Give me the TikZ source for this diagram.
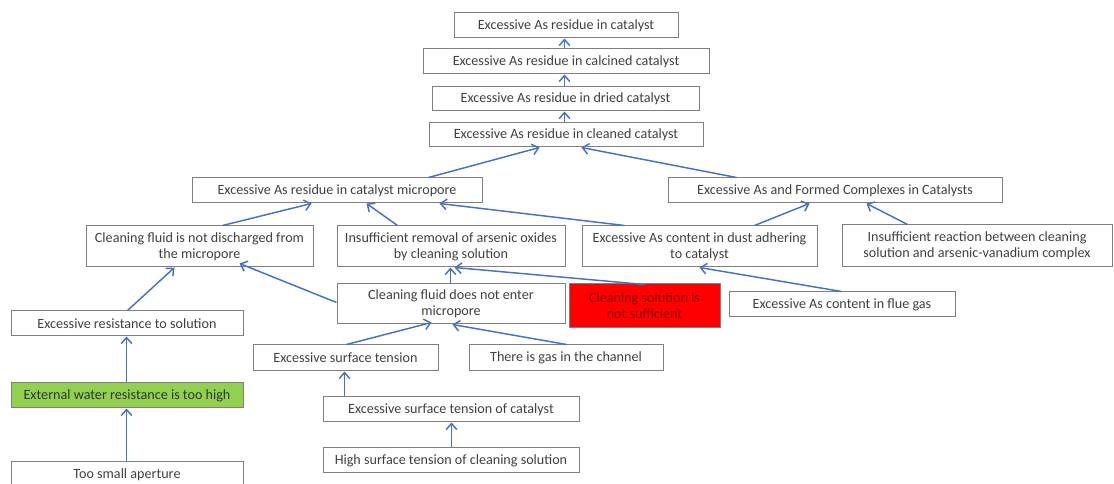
\documentclass[tikz,border=0pt]{standalone}
\usepackage{fontspec}
\setmainfont{Carlito}
\usetikzlibrary{arrows.meta,calc}
\definecolor{arrowblue}{HTML}{4472C4}
\definecolor{boxgray}{HTML}{7F7F7F}
\definecolor{txtgray}{HTML}{404040}
\definecolor{redfill}{HTML}{FF0000}
\definecolor{redtxt}{HTML}{8C0000}
\definecolor{greenfill}{HTML}{92D050}
\newcommand\bx[7][]{%
  \node[box,#1,minimum width={(#5-#3)*0.75pt},minimum height={(#6-#4)*0.75pt}]
    (#2) at ({(#3+#5)/2},{(#4+#6)/2}) {#7};}
\begin{document}
\begin{tikzpicture}[x=0.75pt,y=-0.75pt,
  box/.style={draw=boxgray,line width=0.75pt,fill=white,inner sep=0pt,
    align=center,text=txtgray,font=\fontsize{10.6}{11.9}\selectfont},
  redbox/.style={fill=redfill,draw=boxgray,text=redtxt},
  greenbox/.style={fill=greenfill,text=txtgray!80!black},
  arr/.style={draw=arrowblue,line width=1.1pt,
    -{Straight Barb[length=4.5pt,width=8pt,line width=1.1pt]}}]
\useasboundingbox (0,0) rectangle (1114,484);
\clip (0,0) rectangle (1114,484);
\bx{b1}{454}{13}{678}{38}{Excessive As residue in catalyst}
\bx{b2}{423}{49}{709}{74}{Excessive As residue in calcined catalyst}
\bx{b3}{432}{87}{699}{111}{Excessive As residue in dried catalyst}
\bx{b4}{429}{123}{703}{147}{Excessive As residue in cleaned catalyst}
\bx{b5}{192}{178}{482}{203}{Excessive As residue in catalyst micropore}
\bx{b6}{668}{178}{1002}{203}{Excessive As and Formed Complexes in Catalysts}
\bx{b7}{86}{226}{313}{267}{Cleaning fluid is not discharged from\\the micropore}
\bx{b8}{337}{226}{565}{267}{Insufficient removal of arsenic oxides\\by cleaning solution}
\bx{b9}{582}{226}{817}{267}{Excessive As content in dust adhering\\to catalyst}
\bx{b10}{842}{225}{1112}{267}{Insufficient reaction between cleaning\\solution and arsenic-vanadium complex}
\bx{b11}{337}{284}{565}{324}{Cleaning fluid does not enter\\micropore}
\bx[redbox]{b12}{569}{284}{720}{328}{Cleaning solution is\\not sufficient}
\bx{b13}{729}{292}{955}{317}{Excessive As content in flue gas}
\bx{b14}{11}{311}{243}{336}{Excessive resistance to solution}
\bx{b15}{253}{345}{438}{371}{Excessive surface tension}
\bx{b16}{469}{345}{663}{371}{There is gas in the channel}
\bx[greenbox]{b17}{11}{383}{243}{408}{External water resistance is too high}
\bx{b18}{323}{397}{579}{422}{Excessive surface tension of catalyst}
\bx{b19}{323}{448}{579}{473}{High surface tension of cleaning solution}
\bx{b20}{11}{462}{243}{487}{Too small aperture}
% connectors
\draw[arr] ($(b2.north west)+(142,0)$) -- ($(b1.south west)+(111,0)$);
\draw[arr] ($(b3.north west)+(133,0)$) -- ($(b2.south west)+(142,0)$);
\draw[arr] ($(b4.north west)+(136,0)$) -- ($(b3.south west)+(133,0)$);
\draw[arr] ($(b5.north west)+(237,0)$) -- ($(b4.south west)+(111,0)$);
\draw[arr] ($(b6.north west)+(69,0)$) -- ($(b4.south west)+(153,0)$);
\draw[arr] ($(b7.north west)+(137,0)$) -- ($(b5.south west)+(120,0)$);
\draw[arr] ($(b8.north west)+(61,0)$) -- ($(b5.south west)+(175,0)$);
\draw[arr] ($(b9.north west)+(43,0)$) -- ($(b5.south west)+(248,0)$);
\draw[arr] ($(b9.north west)+(173,0)$) -- ($(b6.south west)+(142,0)$);
\draw[arr] ($(b10.north west)+(66,0)$) -- ($(b6.south west)+(199,0)$);
\draw[arr] ($(b14.north west)+(117,0)$) -- ($(b7.south west)+(89,0)$);
\draw[arr] ($(b11.north west)+(0,19)$) -- ($(b7.south west)+(154,-4)$);
\draw[arr] ($(b11.north west)+(114,0)$) -- ($(b8.south west)+(114,0)$);
\draw[arr] ($(b12.north west)+(76,1)$) -- ($(b8.south west)+(118,0)$);
\draw[arr] ($(b13.north west)+(113,0)$) -- ($(b9.south west)+(118,0)$);
\draw[arr] ($(b15.north west)+(94,0)$) -- ($(b11.south west)+(95,-2)$);
\draw[arr] ($(b16.north west)+(98,0)$) -- ($(b11.south west)+(116,0)$);
\draw[arr] ($(b18.north west)+(22,0)$) -- ($(b15.south west)+(92,0)$);
\draw[arr] ($(b19.north west)+(129,0)$) -- ($(b18.south west)+(129,0)$);
\draw[arr] ($(b17.north west)+(116,0)$) -- ($(b14.south west)+(116,0)$);
\draw[arr] ($(b20.north west)+(116,0)$) -- ($(b17.south west)+(116,0)$);
\end{tikzpicture}
\end{document}
